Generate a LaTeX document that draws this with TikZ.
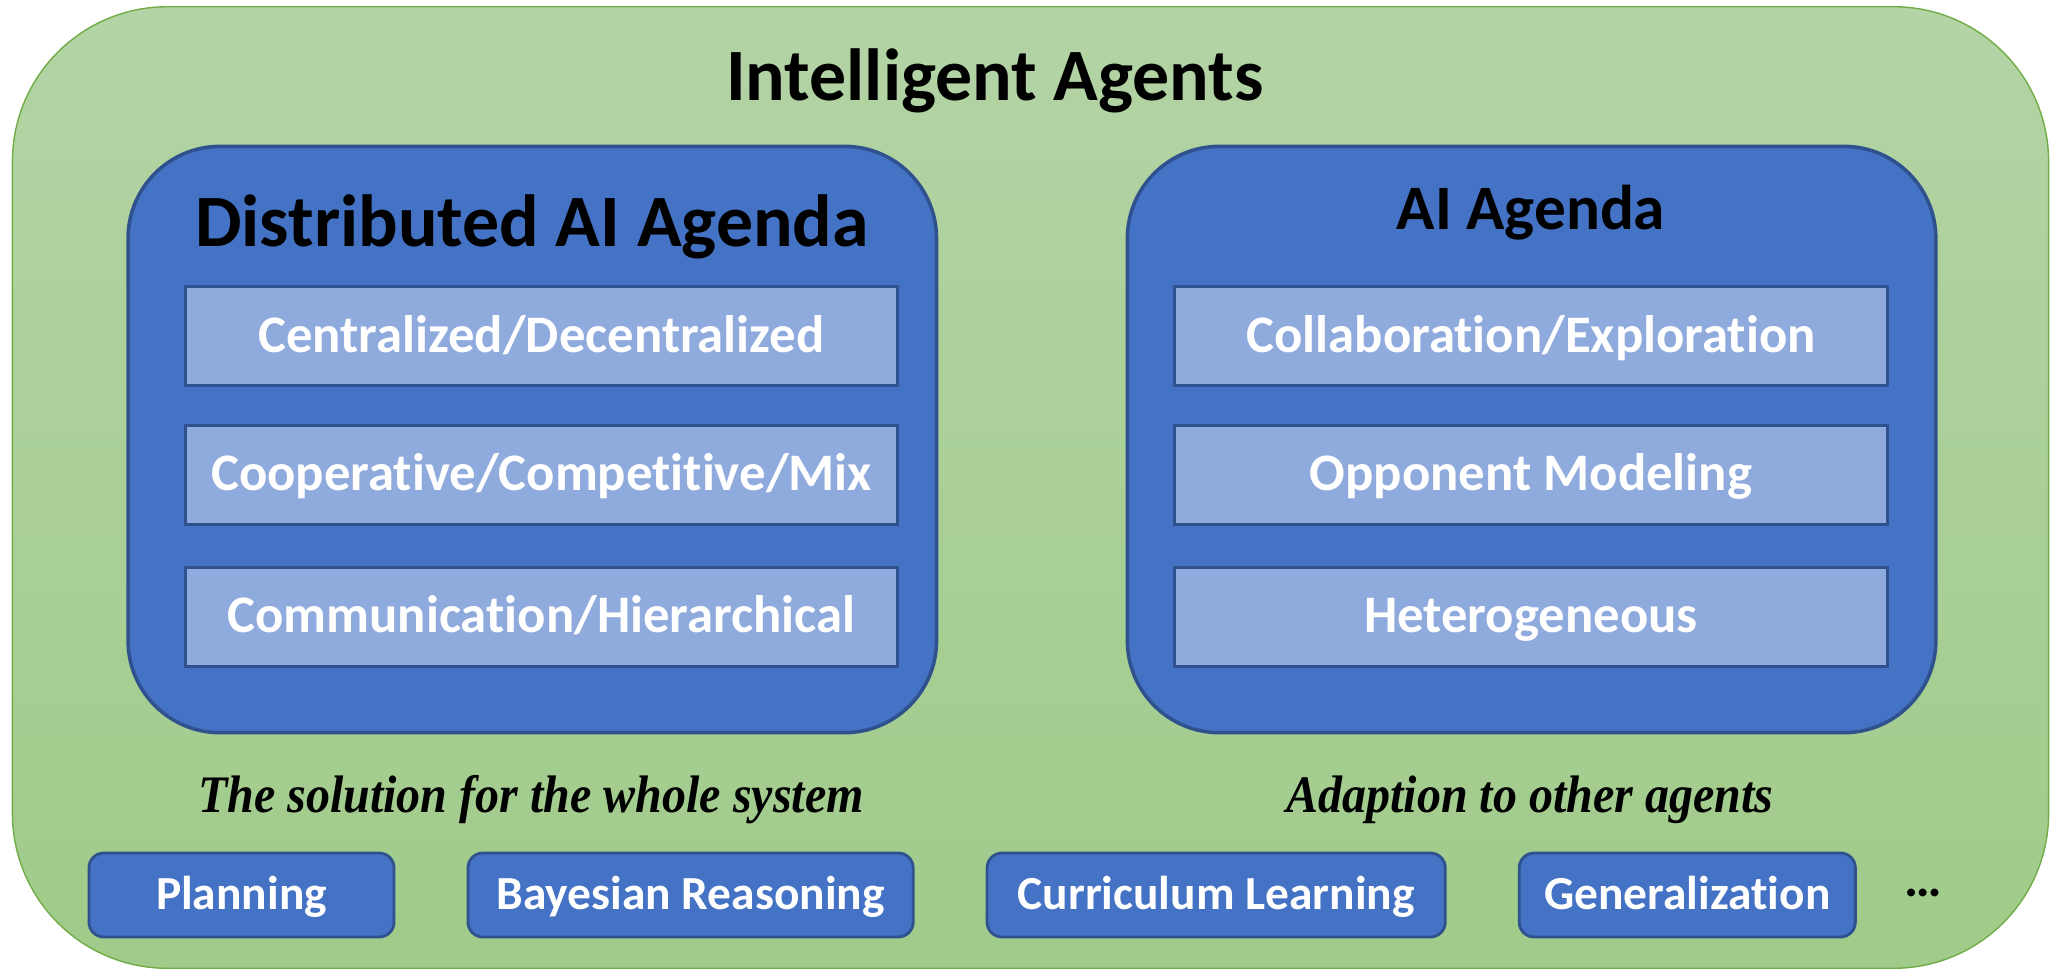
\documentclass[tikz,border=0pt]{standalone}
\usepackage{fontspec}
\setmainfont{Carlito}[Ligatures=NoCommon]
\newfontfamily\capfont{Liberation Serif}[FakeStretch=0.91]
\usetikzlibrary{positioning}
\definecolor{boxblue}{HTML}{4472C4}
\definecolor{edgeblue}{HTML}{2F528F}
\definecolor{paleblue}{HTML}{8FAADC}
\definecolor{greentop}{HTML}{B3D4A5}
\definecolor{greenbot}{HTML}{A0CB8A}
\definecolor{greenedge}{HTML}{70AD47}
\begin{document}
\begin{tikzpicture}[x=0.01cm,y=-0.01cm,
  agenda/.style={draw=edgeblue,line width=1pt,fill=boxblue,rounded corners=0.92cm,minimum width=8.08cm,minimum height=5.86cm},
  topic/.style={draw=edgeblue,line width=0.8pt,fill=paleblue,minimum width=7.12cm,minimum height=0.99cm,text height=11pt,text depth=2pt,text=white,font=\fontsize{15}{18}\selectfont\bfseries},
  method/.style={draw=edgeblue,line width=0.8pt,fill=boxblue,rounded corners=0.15cm,minimum height=0.84cm,text height=10pt,text depth=2pt,text=white,font=\fontsize{13.5}{16}\selectfont\bfseries},
  caption/.style={font=\fontsize{15}{18}\selectfont\capfont\bfseries\itshape}]
\useasboundingbox (0,0) rectangle (2051,972);
\node[draw=greenedge,top color=greentop,bottom color=greenbot,rounded corners=1.55cm,minimum width=20.35cm,minimum height=9.61cm] (agents) at (1030.5,487.5) {};
\node[font=\fontsize{21}{25}\selectfont\bfseries] (title) at (995,81) {Intelligent Agents};
\node[agenda] (dai) at (532.3,439.5) {};
\node[agenda] (ai) at (1531.6,439.5) {};
\node[font=\fontsize{21}{25}\selectfont\bfseries] (daititle) at (532,227) {Distributed AI Agenda};
\node[font=\fontsize{18}{22}\selectfont\bfseries] (aititle) at (1531,213) {AI Agenda};
\node[topic] (central) at (541.5,336.2) {Centralized/Decentralized};
\node[topic,below=0.37cm of central] (coop) {Cooperative/Competitive/Mix};
\node[topic,below=0.40cm of coop] (comm) {Communication/Hierarchical};
\node[topic] (collab) at (1531,336.2) {Collaboration/Exploration};
\node[topic,below=0.37cm of collab] (opp) {Opponent Modeling};
\node[topic,below=0.40cm of opp] (hetero) {Heterogeneous};
\node[caption] (whole) at (531,800) {The solution for the whole system};
\node[caption] (adapt) at (1530,800) {Adaption to other agents};
\node[method,minimum width=3.05cm] (plan) at (241.5,895) {Planning};
\node[method,minimum width=4.45cm,right=0.71cm of plan] (bayes) {Bayesian Reasoning};
\node[method,minimum width=4.58cm,right=0.71cm of bayes] (curr) {Curriculum Learning};
\node[method,minimum width=3.36cm,right=0.71cm of curr] (gen) {Generalization};
\node[font=\fontsize{15}{18}\selectfont\bfseries] (more) at (1923,893) {…};
\end{tikzpicture}
\end{document}
